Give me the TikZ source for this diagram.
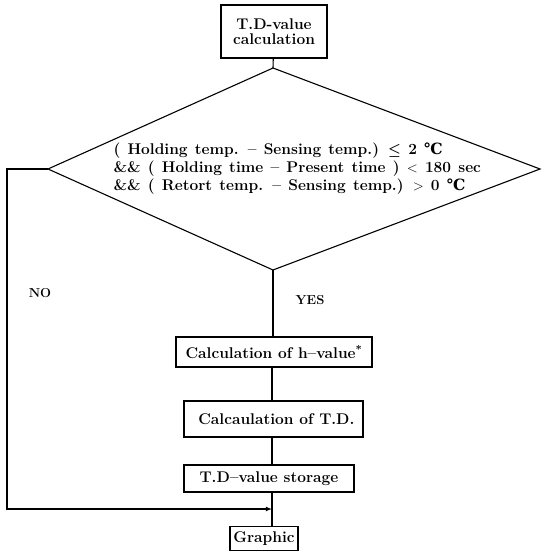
\documentclass[tikz,border=0pt]{standalone}
\usepackage{amssymb, amsmath}
\usepackage{tikz}
\usetikzlibrary{arrows,calc}
\usepackage{fontspec}
\newfontfamily\degfont{DejaVu Serif}
\newcommand{\degC}{{\degfont ℃}}
\newcommand{\widespaces}{\spaceskip=7.2pt plus 1pt\relax}

\begin{document}
\begin{tikzpicture}[x=1pt, y=-1pt, line width=1.1pt, box/.style={draw, inner sep=0pt, align=center, font=\fontsize{15.5}{15}\selectfont\bfseries}, cond text/.style={align=left, inner sep=0pt, font=\fontsize{15.5}{17.8}\selectfont\bfseries\widespaces}, lab/.style={font=\fontsize{13}{13}\selectfont\bfseries}]
\useasboundingbox (0,0) rectangle (542,551);
\node[box, minimum width=106pt, minimum height=53pt] (calc) at (274,31.5) {T.D-value\\calculation};
\coordinate (dtop) at (273,68);
\coordinate (dright) at (540,169);
\coordinate (dbot) at (273,270);
\coordinate (dleft) at (48,169);
\draw (dtop) -- (dright) -- (dbot) -- (dleft) -- cycle;
\node[cond text, anchor=west] (cond) at (113,168.5) {( Holding temp. -- Sensing temp.) $\boldsymbol{\leq}$ 2 \degC\\
\&\& ( Holding time -- Present time ) $<$ 180 sec\\
\&\& ( Retort temp. -- Sensing temp.) $>$ 0 \degC};
\node[box, minimum width=196pt, minimum height=30pt] (hval) at (274,352) {Calculation of h--value\textsuperscript{*}};
\node[box, minimum width=179pt, minimum height=36pt] (tdc) at (273.5,419) {\ Calcaulation of T.D.};
\node[box, minimum width=170pt, minimum height=27pt] (stor) at (269,478.5) {T.D--value storage};
\node[box, minimum width=68pt, minimum height=24pt] (graph) at (264,538.5) {Graphic};
\node[lab] (no) at (40,293) {NO};
\node[lab] (yes) at (310,300) {YES};
\coordinate (spine) at (272,0);
\coordinate (nocorner) at (7,169);
\coordinate (join) at (272,509);
\draw (calc) -- (dtop);
\draw (dbot) -- (dbot |- hval.north);
\draw (hval.south -| spine) -- (tdc.north -| spine);
\draw (tdc.south -| spine) -- (stor.north -| spine);
\draw (stor.south -| spine) -- (graph.north -| spine);
\draw[-latex] (dleft) -- (nocorner) |- (join);
\end{tikzpicture}
\end{document}
